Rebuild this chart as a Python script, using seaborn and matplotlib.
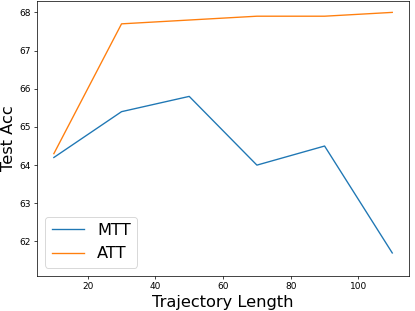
import matplotlib
matplotlib.use("Agg")
from matplotlib import pyplot as plt
import seaborn as sns
import pandas as pd

# trajectory lengths and test accuracy per method
traj_len = [10, 30, 50, 70, 90, 110]
mtt_acc = [64.2, 65.4, 65.8, 64.0, 64.5, 61.7]
att_acc = [64.3, 67.7, 67.8, 67.9, 67.9, 68.0]

df = pd.DataFrame({
    "Trajectory Length": traj_len * 2,
    "Test Acc": mtt_acc + att_acc,
    "method": ["MTT"] * len(traj_len) + ["ATT"] * len(traj_len),
})

# drawn like a 640x480 figure, shrunk to 415x311
fig = plt.figure(figsize=(415 / 65, 311 / 65), dpi=65)
ax = fig.add_subplot(111)
sns.lineplot(data=df, x="Trajectory Length", y="Test Acc", hue="method",
             palette=["#1f77b4", "#ff7f0e"], linewidth=1.5, ax=ax)

ax.set_ylim(61.1, 68.3)
ax.set_xlabel("Trajectory Length", fontsize=18)
ax.set_ylabel("Test Acc", fontsize=18)
ax.tick_params(labelsize=10)
ax.legend(loc="lower left", fontsize=18)

plt.subplots_adjust(left=0.089, right=0.986, top=0.997, bottom=0.113)
plt.savefig("out.png", dpi=65)
